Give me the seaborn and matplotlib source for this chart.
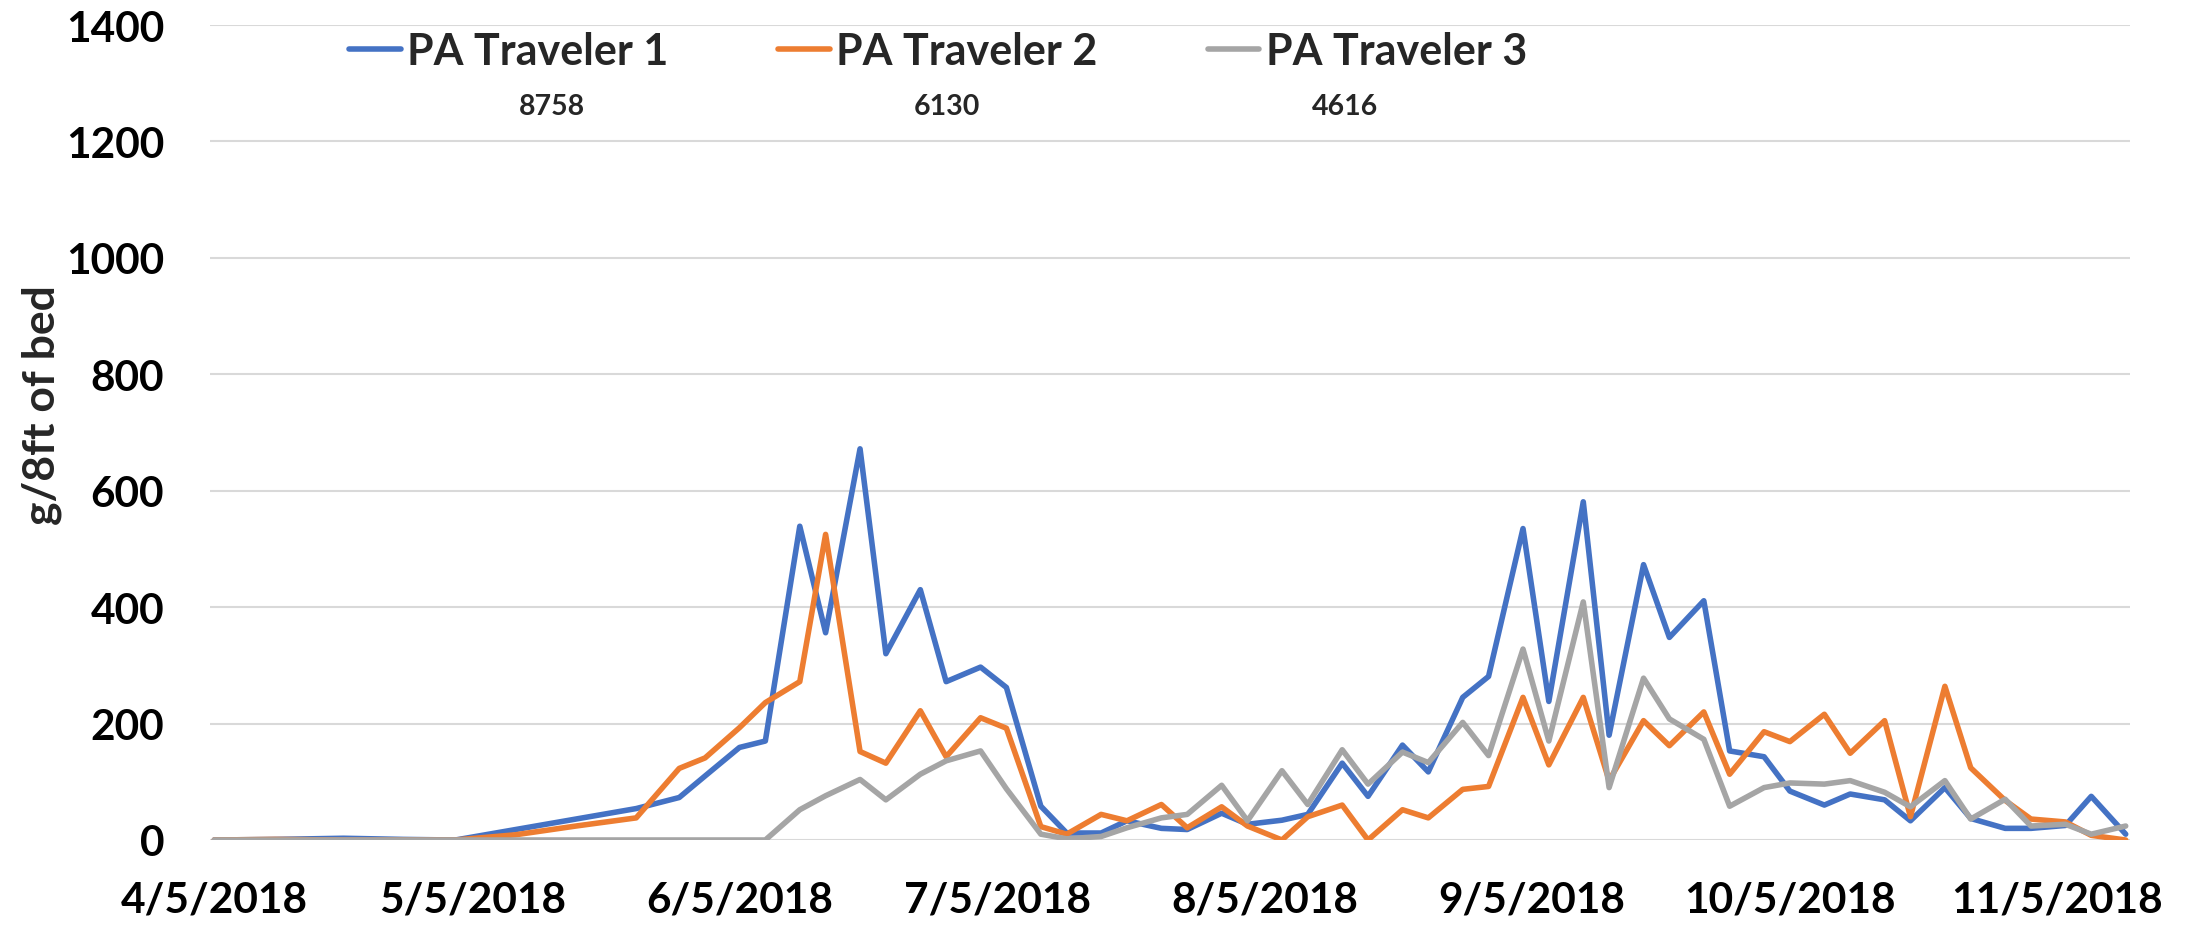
import matplotlib
matplotlib.use('Agg')
import matplotlib.pyplot as plt
import seaborn as sns
import pandas as pd

# sampling dates (roughly weekly in spring, then Tue/Fri)
dates = ['2018-04-05', '2018-04-12', '2018-04-20', '2018-04-27',
         '2018-05-03', '2018-05-10', '2018-05-17', '2018-05-24', '2018-05-29',
         '2018-06-01', '2018-06-05', '2018-06-08', '2018-06-12', '2018-06-15',
         '2018-06-19', '2018-06-22', '2018-06-26', '2018-06-29',
         '2018-07-03', '2018-07-06', '2018-07-10', '2018-07-13', '2018-07-17',
         '2018-07-20', '2018-07-24', '2018-07-27', '2018-07-31',
         '2018-08-03', '2018-08-07', '2018-08-10', '2018-08-14', '2018-08-17',
         '2018-08-21', '2018-08-24', '2018-08-28', '2018-08-31',
         '2018-09-04', '2018-09-07', '2018-09-11', '2018-09-14', '2018-09-18',
         '2018-09-21', '2018-09-25', '2018-09-28',
         '2018-10-02', '2018-10-05', '2018-10-09', '2018-10-12', '2018-10-16',
         '2018-10-19', '2018-10-23', '2018-10-26', '2018-10-30',
         '2018-11-02', '2018-11-06', '2018-11-09', '2018-11-13']

traveler_1 = [0, 1, 3, 1,
              0, 18, 36, 54, 73,
              110, 159, 170, 539, 356, 672, 320, 430, 272,
              297, 262, 58, 12, 12, 33, 20, 18, 46,
              27, 34, 44, 132, 75, 163, 117, 245, 281,
              535, 238, 581, 180, 473, 348, 411, 153,
              143, 84, 60, 79, 69, 33, 90, 37, 20,
              20, 25, 75, 10]
traveler_2 = [0, 1, 0, 0,
              0, 9, 24, 38, 123,
              141, 193, 236, 272, 525, 152, 132, 222, 143,
              210, 192, 23, 10, 44, 33, 61, 21, 57,
              24, 0, 40, 60, 0, 52, 38, 87, 92,
              245, 129, 245, 102, 205, 162, 220, 113,
              186, 169, 216, 149, 205, 40, 264, 124, 68,
              36, 31, 8, 0]
traveler_3 = [0, 0, 0, 0,
              0, 0, 0, 0, 0,
              0, 0, 0, 52, 76, 104, 69, 113, 136,
              153, 88, 10, 2, 6, 21, 38, 44, 94,
              33, 119, 61, 155, 96, 151, 133, 202, 145,
              328, 170, 409, 90, 278, 208, 173, 58,
              90, 98, 96, 102, 82, 57, 102, 36, 70,
              24, 27, 10, 24]

series_names = ['PA Traveler 1', 'PA Traveler 2', 'PA Traveler 3']
totals = ['8758', '6130', '4616']
colors = ['#4472C4', '#ED7D31', '#A5A5A5']

tick_dates = ['2018-04-05', '2018-05-05', '2018-06-05', '2018-07-05',
              '2018-08-05', '2018-09-05', '2018-10-05', '2018-11-05']
tick_labels = ['4/5/2018', '5/5/2018', '6/5/2018', '7/5/2018',
               '8/5/2018', '9/5/2018', '10/5/2018', '11/5/2018']
y_ticks = [0, 200, 400, 600, 800, 1000, 1200, 1400]

sns.set_theme(style='white')
plt.rcParams['font.family'] = ['Lato', 'DejaVu Sans']

df = pd.DataFrame({'date': pd.to_datetime(dates),
                   series_names[0]: traveler_1,
                   series_names[1]: traveler_2,
                   series_names[2]: traveler_3})
long_df = df.melt(id_vars='date', var_name='series', value_name='g')

W, H = 2194, 928
fig = plt.figure(figsize=(W / 100, H / 100), dpi=100)
ax = fig.add_axes([210 / W, 1 - 841 / H, 1920 / W, 815 / H])

sns.lineplot(data=long_df, x='date', y='g', hue='series', hue_order=series_names,
             palette=colors, linewidth=4.0, ax=ax, legend=False)
for line in ax.lines:
    line.set_solid_joinstyle('round')
    line.set_solid_capstyle('round')

ax.set_ylim(0, 1400)
ax.set_yticks(y_ticks)
ax.set_xlim(pd.Timestamp('2018-04-05') - pd.Timedelta(hours=12),
            pd.Timestamp('2018-11-13') + pd.Timedelta(hours=12))
ax.set_xticks(pd.to_datetime(tick_dates))
ax.set_xticklabels(tick_labels)
for lab in ax.get_xticklabels() + ax.get_yticklabels():
    lab.set_fontsize(30.5)
    lab.set_fontweight('bold')
    lab.set_color('black')
ax.tick_params(axis='x', length=0, pad=29)
ax.tick_params(axis='y', length=0, pad=33)
ax.set_xlabel('')
ax.set_ylabel('')
ax.yaxis.grid(True, color='#D9D9D9', linewidth=1.5)
ax.xaxis.grid(False)
sns.despine(ax=ax, left=True, bottom=True)

fig.text(42 / W, 1 - 405 / H, 'g/8ft of bed', rotation=90, ha='center', va='center',
         fontsize=32, fontweight='bold')

fig.legend(ax.lines[:3], series_names, loc='center left',
           bbox_to_anchor=(349 / W, 1 - 52 / H), bbox_transform=fig.transFigure,
           ncol=3, frameon=False, borderpad=0, borderaxespad=0,
           handlelength=1.2, handletextpad=0.15, columnspacing=2.55,
           prop={'size': 31, 'weight': 'bold'})

for x, t in zip([552, 947, 1345], totals):
    fig.text(x / W, 1 - 107 / H, t, ha='center', va='center', fontsize=20.5, fontweight='bold')

fig.savefig('out.png', dpi=100)
